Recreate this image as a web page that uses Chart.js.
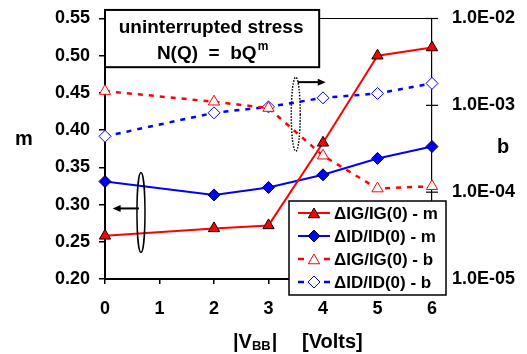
<!DOCTYPE html>
<html>
<head>
<meta charset="utf-8">
<script src="https://cdn.jsdelivr.net/npm/chart.js@4/dist/chart.umd.min.js"></script>
<style>
html,body{margin:0;padding:0;background:#fff;}
canvas{display:block;}
</style>
</head>
<body>
<canvas id="c" width="527" height="354"></canvas>
<script>
// ---- data ----
const vbb = [0, 2, 3, 4, 5, 6];
const igM = [0.258, 0.268, 0.272, 0.383, 0.500, 0.511];
const idM = [0.331, 0.313, 0.323, 0.340, 0.362, 0.378];
const igB = [1.46e-3, 1.10e-3, 0.93e-3, 2.63e-4, 1.10e-4, 1.17e-4];
const idB = [4.4e-4, 8.2e-4, 9.6e-4, 1.22e-3, 1.37e-3, 1.79e-3];
const seriesLabels = ['\u0394IG/IG(0) - m', '\u0394ID/ID(0) - m', '\u0394IG/IG(0) - b', '\u0394ID/ID(0) - b'];
const leftTicks = [0.20, 0.25, 0.30, 0.35, 0.40, 0.45, 0.50, 0.55];
const rightTicks = [1e-5, 1e-4, 1e-3, 1e-2];
const rightTickLabels = ['1.0E-05', '1.0E-04', '1.0E-03', '1.0E-02'];
const xTicks = [0, 1, 2, 3, 4, 5, 6];

const FONT = 'Liberation Sans, Arial, sans-serif';
const RED = '#ff0000', BLUE = '#0000ff';

const pts = (ys) => vbb.map((x, i) => ({x: x, y: ys[i]}));

function drawMarker(ctx, style, x, y, r, fill, stroke, lw) {
  ctx.save();
  ctx.beginPath();
  if (style === 'triangle') {
    ctx.moveTo(x, y - r);
    ctx.lineTo(x + r * Math.sin(2 * Math.PI / 3), y + r / 2);
    ctx.lineTo(x - r * Math.sin(2 * Math.PI / 3), y + r / 2);
  } else {
    ctx.moveTo(x - r, y); ctx.lineTo(x, y - r); ctx.lineTo(x + r, y); ctx.lineTo(x, y + r);
  }
  ctx.closePath();
  ctx.fillStyle = fill; ctx.fill();
  ctx.lineWidth = lw; ctx.strokeStyle = stroke; ctx.stroke();
  ctx.restore();
}

function arrow(ctx, x1, y, x2) {
  const dir = Math.sign(x2 - x1);
  ctx.save();
  ctx.strokeStyle = '#000'; ctx.fillStyle = '#000'; ctx.lineWidth = 2;
  ctx.beginPath(); ctx.moveTo(x1, y); ctx.lineTo(x2 - dir * 7, y); ctx.stroke();
  ctx.beginPath(); ctx.moveTo(x2, y); ctx.lineTo(x2 - dir * 8, y - 3.5); ctx.lineTo(x2 - dir * 8, y + 3.5); ctx.closePath(); ctx.fill();
  ctx.restore();
}

function noPad(s) { s.paddingTop = 0; s.paddingBottom = 0; s.paddingLeft = 0; s.paddingRight = 0; }

const overlay = {
  id: 'overlay',
  beforeDatasetsDraw(chart) {
    const {ctx, chartArea: a} = chart;
    ctx.save();
    ctx.strokeStyle = '#000'; ctx.lineWidth = 1.2;
    ctx.beginPath(); ctx.moveTo(a.left, a.top); ctx.lineTo(a.right, a.top); ctx.stroke();
    const y1 = chart.scales.y1;
    rightTicks.forEach(v => {
      const py = y1.getPixelForValue(v);
      ctx.beginPath(); ctx.moveTo(a.right - 6, py); ctx.lineTo(a.right + 6, py); ctx.stroke();
    });
    ctx.restore();
  },
  afterDraw(chart) {
    const {ctx, chartArea: a} = chart;
    const sx = chart.scales.x, sy = chart.scales.y;
    ctx.save();
    // annotation box
    const bx1 = a.left, bx2 = sx.getPixelForValue(3.93);
    const by1 = sy.getPixelForValue(0.5615), by2 = sy.getPixelForValue(0.4846);
    ctx.fillStyle = '#fff'; ctx.fillRect(bx1, by1, bx2 - bx1, by2 - by1);
    ctx.strokeStyle = '#000'; ctx.lineWidth = 2; ctx.strokeRect(bx1, by1, bx2 - bx1, by2 - by1);
    ctx.fillStyle = '#000'; ctx.textBaseline = 'alphabetic'; ctx.textAlign = 'center';
    ctx.font = 'bold 19px ' + FONT;
    const cx = (bx1 + bx2) / 2;
    ctx.fillText('uninterrupted stress', cx - 1, by1 + 23);
    const main = 'N(Q)  =  bQ';
    const w1 = ctx.measureText(main).width;
    ctx.font = 'bold 12px ' + FONT;
    const w2 = ctx.measureText('m').width;
    const sxl = cx - (w1 + w2) / 2;
    ctx.textAlign = 'left';
    ctx.font = 'bold 19px ' + FONT;
    ctx.fillText(main, sxl, by1 + 49);
    ctx.font = 'bold 12px ' + FONT;
    ctx.fillText('m', sxl + w1 + 1, by1 + 40);

    // left ellipse + arrow (pointing to the left axis)
    ctx.strokeStyle = '#000'; ctx.lineWidth = 1.5;
    const ex = sx.getPixelForValue(0.66);
    const ey = sy.getPixelForValue(0.2892);
    ctx.beginPath(); ctx.ellipse(ex, ey, 4, 40, 0, 0, Math.PI * 2); ctx.stroke();
    arrow(ctx, ex - 2, sy.getPixelForValue(0.2948), sx.getPixelForValue(0.14));
    // right dotted ellipse + arrow (pointing to the right axis)
    const rx = sx.getPixelForValue(3.5);
    const ry = sy.getPixelForValue(0.4214);
    ctx.save();
    ctx.setLineDash([1.5, 1.5]); ctx.lineWidth = 1.5;
    ctx.beginPath(); ctx.ellipse(rx, ry, 4.5, 37, 0, 0, Math.PI * 2); ctx.stroke();
    ctx.restore();
    arrow(ctx, rx + 2, sy.getPixelForValue(0.4645), sx.getPixelForValue(4.05));

    // legend
    const lx1 = 289, ly1 = 201, lx2 = 446, ly2 = 295;
    ctx.fillStyle = '#fff'; ctx.fillRect(lx1, ly1, lx2 - lx1, ly2 - ly1);
    ctx.strokeStyle = '#000'; ctx.lineWidth = 1.5; ctx.strokeRect(lx1, ly1, lx2 - lx1, ly2 - ly1);
    const rows = [213, 236, 259, 282];
    chart.data.datasets.forEach((ds, i) => {
      const y = rows[i];
      ctx.save();
      ctx.strokeStyle = ds.borderColor; ctx.lineWidth = ds.borderWidth;
      if (!ds.borderDash) {
        ctx.beginPath(); ctx.moveTo(298, y); ctx.lineTo(330, y); ctx.stroke();
      } else {
        ctx.beginPath(); ctx.moveTo(298, y); ctx.lineTo(304, y); ctx.moveTo(324, y); ctx.lineTo(330, y); ctx.stroke();
      }
      ctx.restore();
      drawMarker(ctx, ds.pointStyle, 314, ds.pointStyle === 'triangle' ? y + 1.5 : y, ds.pointRadius,
        ds.pointBackgroundColor, ds.pointBorderColor, ds.pointBorderWidth);
      ctx.fillStyle = '#000'; ctx.font = 'bold 17px ' + FONT; ctx.textAlign = 'left'; ctx.textBaseline = 'middle';
      ctx.fillText(ds.label, 334, y + 1);
    });

    // axis titles
    ctx.fillStyle = '#000'; ctx.textBaseline = 'middle'; ctx.textAlign = 'center';
    ctx.font = 'bold 20px ' + FONT;
    ctx.fillText('m', 24, 139);
    ctx.fillText('b', 503, 147);
    ctx.textBaseline = 'alphabetic'; ctx.textAlign = 'left';
    let x = 233;
    ctx.font = 'bold 20px ' + FONT;
    ctx.fillText('|V', x, 348); x += ctx.measureText('|V').width;
    ctx.font = 'bold 13px ' + FONT;
    ctx.fillText('BB', x, 350); x += ctx.measureText('BB').width + 1;
    ctx.font = 'bold 20px ' + FONT;
    ctx.fillText('|', x, 348);
    ctx.fillText('[Volts]', 302, 348);
    ctx.restore();
  }
};

new Chart(document.getElementById('c'), {
  type: 'line',
  data: {
    datasets: [
      {label: seriesLabels[0], data: pts(igM), yAxisID: 'y', borderColor: RED, borderWidth: 2,
       pointStyle: 'triangle', pointRadius: 6.5, pointBackgroundColor: RED, pointBorderColor: '#000', pointBorderWidth: 1},
      {label: seriesLabels[1], data: pts(idM), yAxisID: 'y', borderColor: BLUE, borderWidth: 2,
       pointStyle: 'rectRot', pointRadius: 6, pointBackgroundColor: BLUE, pointBorderColor: '#000', pointBorderWidth: 1},
      {label: seriesLabels[2], data: pts(igB), yAxisID: 'y1', borderColor: RED, borderWidth: 2.5, borderDash: [5, 6],
       pointStyle: 'triangle', pointRadius: 6.5, pointBackgroundColor: '#fff', pointBorderColor: RED, pointBorderWidth: 1},
      {label: seriesLabels[3], data: pts(idB), yAxisID: 'y1', borderColor: BLUE, borderWidth: 2.5, borderDash: [5, 6],
       pointStyle: 'rectRot', pointRadius: 6, pointBackgroundColor: '#fff', pointBorderColor: BLUE, pointBorderWidth: 1}
    ]
  },
  options: {
    responsive: false, animation: false,
    layout: {padding: {top: 18.5, left: 0, right: 0, bottom: 0}},
    elements: {line: {tension: 0}},
    clip: false,
    plugins: {legend: {display: false}, tooltip: {enabled: false}},
    scales: {
      x: {
        type: 'linear', min: 0, max: 6,
        afterBuildTicks(s) { s.ticks = xTicks.map(v => ({value: v})); },
        ticks: {color: '#000', font: {family: FONT, size: 18, weight: 'bold'}, padding: 14, maxRotation: 0, callback: v => String(v)},
        grid: {drawOnChartArea: false, tickLength: 5, color: '#000', lineWidth: 1.5},
        border: {color: '#000', width: 2},
        afterFit(s) { s.height = 75; noPad(s); }
      },
      y: {
        position: 'left', min: 0.2, max: 0.55,
        afterBuildTicks(s) { s.ticks = leftTicks.map(v => ({value: v})); },
        ticks: {color: '#000', font: {family: FONT, size: 18, weight: 'bold'}, padding: 9, callback: v => v.toFixed(2)},
        grid: {drawOnChartArea: false, tickLength: 6, color: '#000', lineWidth: 1.5},
        border: {color: '#000', width: 2},
        afterFit(s) { s.width = 105; noPad(s); }
      },
      y1: {
        type: 'logarithmic', position: 'right', min: 1e-5, max: 1e-2,
        afterBuildTicks(s) { s.ticks = rightTicks.map(v => ({value: v})); },
        ticks: {color: '#000', font: {family: FONT, size: 18, weight: 'bold'}, padding: 20,
                callback: v => rightTickLabels[rightTicks.findIndex(t => Math.abs(Math.log10(t) - Math.log10(v)) < 1e-6)]},
        grid: {drawOnChartArea: false, drawTicks: false, color: '#000'},
        border: {color: '#000', width: 1.2},
        afterFit(s) { s.width = 95; noPad(s); }
      }
    }
  },
  plugins: [overlay]
});
</script>
</body>
</html>
